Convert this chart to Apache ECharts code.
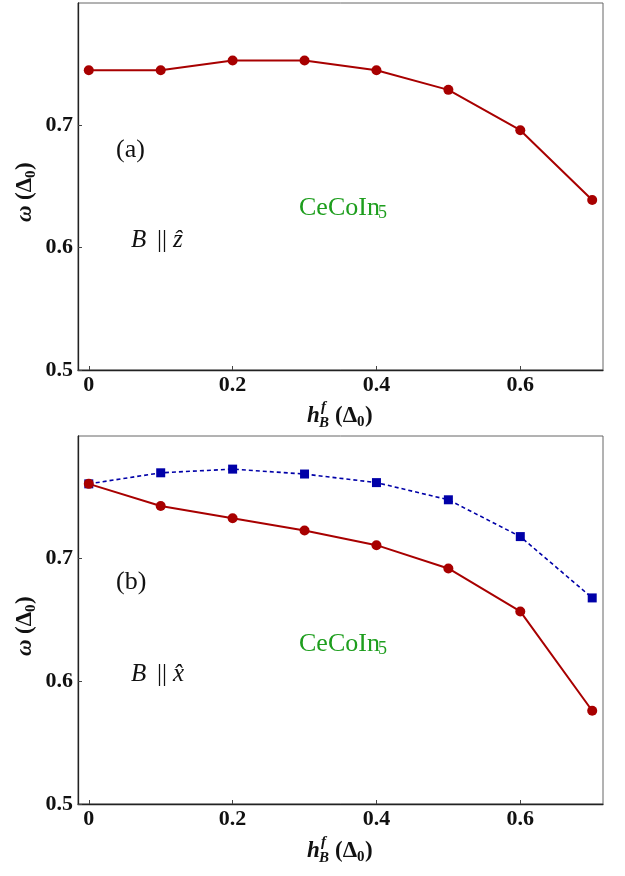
<!DOCTYPE html>
<html>
<head>
<meta charset="utf-8">
<script src="https://cdn.jsdelivr.net/npm/echarts@6/dist/echarts.min.js"></script>
<style>
html,body{margin:0;padding:0;background:#fff;}
#chart{width:625px;height:876px;}
</style>
</head>
<body>
<div id="chart"></div>
<script>
// ---- data ----
const hValues = [0, 0.1, 0.2, 0.3, 0.4, 0.5, 0.6, 0.7];
const omegaZ = [0.745, 0.745, 0.753, 0.753, 0.745, 0.729, 0.696, 0.639];      // panel (a), B || z
const omegaXred = [0.761, 0.743, 0.733, 0.723, 0.711, 0.692, 0.657, 0.576];  // panel (b), red circles
const omegaXblue = [0.761, 0.770, 0.773, 0.769, 0.762, 0.748, 0.718, 0.668]; // panel (b), blue squares
const xTicks = [0, 0.2, 0.4, 0.6];
const yTicks = [0.5, 0.6, 0.7];

const pairs = (xs, ys) => xs.map((x, i) => [x, ys[i]]);

const SERIF = '"Liberation Serif", "DejaVu Serif", serif';
const RED = '#a80000';
const BLUE = '#0000a8';
const GREEN = '#1e9e1e';

function xAxisCfg(gi) {
  return {
    type: 'value', gridIndex: gi, min: -0.015, max: 0.715,
    axisLine: {show: true, onZero: false, lineStyle: {color: '#222', width: 1.3}},
    axisTick: {show: true, inside: true, length: 4, customValues: xTicks, lineStyle: {color: '#444'}},
    axisLabel: {customValues: xTicks, margin: 4, formatter: v => (v === 0 ? '0' : String(+v.toFixed(1))),
      fontFamily: SERIF, fontWeight: 'bold', fontSize: 22, color: '#111'},
    splitLine: {show: false}
  };
}
function yAxisCfg(gi) {
  return {
    type: 'value', gridIndex: gi, min: 0.5, max: 0.8,
    axisLine: {show: true, onZero: false, lineStyle: {color: '#222', width: 1.3}},
    axisTick: {show: true, inside: true, length: 4, customValues: yTicks, lineStyle: {color: '#444'}},
    axisLabel: {customValues: yTicks, margin: 5, formatter: v => v.toFixed(1),
      fontFamily: SERIF, fontWeight: 'bold', fontSize: 22, color: '#111'},
    splitLine: {show: false}
  };
}

function xName(cx, cy) {
  const big = 'bold 23px ' + SERIF, bigI = 'italic bold 23px ' + SERIF, sm = 'bold 15px ' + SERIF, smI = 'italic bold 15px ' + SERIF;
  const t = (x, y, text, font) => ({type: 'text', x, y, style: {text, font, fill: '#111', verticalAlign: 'middle', align: 'left'}});
  return {type: 'group', x: cx, y: cy, children: [
    t(-31, 0, 'h', bigI),
    t(-17, -9, 'f', smI),
    t(-19, 7, 'B', smI),
    t(-3, 0, '(Δ', big),
    t(19, 6, '0', sm),
    t(27, 0, ')', big)
  ]};
}
function yName(cx, cy) {
  const big = 'bold 23px ' + SERIF, bigI = 'italic bold 23px ' + SERIF, sm = 'bold 15px ' + SERIF;
  const t = (x, y, text, font) => ({type: 'text', x, y, style: {text, font, fill: '#111', verticalAlign: 'middle', align: 'left'}});
  return {type: 'group', x: cx, y: cy, rotation: Math.PI / 2, children: [
    t(-34, 0, 'ω', bigI),
    t(-12, 0, '(Δ', big),
    t(10, 6, '0', sm),
    t(18, 0, ')', big)
  ]};
}
function txt(x, y, text, font, fill) {
  return {type: 'text', x, y, style: {text, font, fill: fill || '#111', verticalAlign: 'middle', align: 'left'}};
}
function compound(x, y) {
  return {type: 'group', x, y, children: [
    txt(0, 0, 'CeCoIn', '26px ' + SERIF, GREEN),
    txt(79, 5, '5', '18px ' + SERIF, GREEN)
  ]};
}
function field(x, y, v) {
  return {type: 'group', x, y, children: [
    txt(0, 0, 'B', 'italic 25px ' + SERIF),
    txt(26, 0, '||', '25px ' + SERIF),
    txt(42, 0, v, 'italic 25px ' + SERIF)
  ]};
}

const chart = echarts.init(document.getElementById('chart'), null, {renderer: 'canvas'});
chart.setOption({
  backgroundColor: '#fff',
  animation: false,
  grid: [
    {left: 78, right: 22, top: 3, height: 367, show: true, borderColor: '#666', borderWidth: 1, containLabel: false},
    {left: 78, right: 22, top: 436, height: 368, show: true, borderColor: '#666', borderWidth: 1, containLabel: false}
  ],
  xAxis: [xAxisCfg(0), xAxisCfg(1)],
  yAxis: [yAxisCfg(0), yAxisCfg(1)],
  series: [
    {type: 'line', xAxisIndex: 0, yAxisIndex: 0, data: pairs(hValues, omegaZ),
      symbol: 'circle', symbolSize: 10, lineStyle: {color: RED, width: 2}, itemStyle: {color: RED}},
    {type: 'line', xAxisIndex: 1, yAxisIndex: 1, data: pairs(hValues, omegaXblue),
      symbol: 'rect', symbolSize: 9, lineStyle: {color: BLUE, width: 1.6, type: [4, 3]}, itemStyle: {color: BLUE}},
    {type: 'line', xAxisIndex: 1, yAxisIndex: 1, data: pairs(hValues, omegaXred),
      symbol: 'circle', symbolSize: 10, lineStyle: {color: RED, width: 2}, itemStyle: {color: RED}}
  ],
  graphic: [
    xName(338, 416),
    xName(338, 851),
    yName(25, 188),
    yName(25, 622),
    txt(116, 150, '(a)', '26px ' + SERIF),
    compound(299, 208),
    field(131, 240, 'ẑ'),
    txt(116, 582, '(b)', '26px ' + SERIF),
    compound(299, 644),
    field(131, 674, 'x̂')
  ]
});
</script>
</body>
</html>
